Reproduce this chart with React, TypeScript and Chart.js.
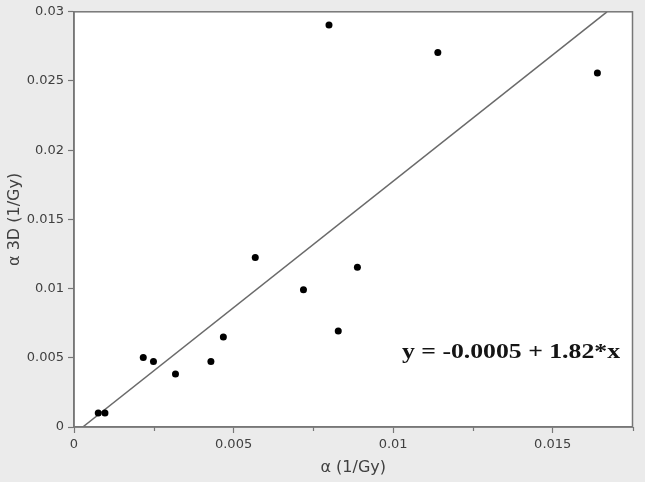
import React, { useEffect, useRef } from "react";
import { Chart, registerables } from "chart.js";

Chart.register(...registerables);

const xValues = [0.00076, 0.00097, 0.00217, 0.00249, 0.00318, 0.00429, 0.00468, 0.00568, 0.00719, 0.00799, 0.00828, 0.00888, 0.0114, 0.0164];
const yValues = [0.00102, 0.00102, 0.00502, 0.00473, 0.00383, 0.00473, 0.00651, 0.01224, 0.00991, 0.02905, 0.00694, 0.01155, 0.02706, 0.02558];
const fitX = [0.000275, 0.0167];
const fitY = [0, 0.03];
const minorXTicks = [0.0025, 0.0075, 0.0125, 0.0175];
const equationLabel = "y = -0.0005 + 1.82*x";
const xTitle = "α (1/Gy)";
const yTitle = "α 3D (1/Gy)";

const AXIS = "#777777";
const TEXT = "#404040";
const FONT = "'DejaVu Sans', sans-serif";

const framePlugin = {
  id: "frame",
  beforeDraw(chart: any) {
    const { ctx, chartArea: a, width, height } = chart;
    ctx.save();
    ctx.fillStyle = "#ebebeb";
    ctx.fillRect(0, 0, width, height);
    ctx.fillStyle = "#ffffff";
    ctx.fillRect(a.left, a.top, a.right - a.left, a.bottom - a.top);
    ctx.restore();
  },
  afterDraw(chart: any) {
    const { ctx, chartArea: a } = chart;
    const xs = chart.scales.x;
    ctx.save();
    ctx.strokeStyle = AXIS;
    ctx.lineWidth = 1.5;
    ctx.strokeRect(a.left, a.top, a.right - a.left, a.bottom - a.top);
    // minor ticks
    ctx.lineWidth = 1.2;
    ctx.beginPath();
    for (const v of minorXTicks) {
      const px = Math.round(xs.getPixelForValue(v)) + 0.5;
      ctx.moveTo(px, a.bottom);
      ctx.lineTo(px, a.bottom + 4);
    }
    ctx.stroke();
    // equation annotation
    ctx.fillStyle = "#141414";
    ctx.font = "bold 21px 'Liberation Serif', 'Times New Roman', serif";
    ctx.textBaseline = "alphabetic";
    ctx.textAlign = "left";
    const w = ctx.measureText(equationLabel).width;
    const target = 218;
    ctx.translate(402, 357.5);
    ctx.scale(target / w, 1);
    ctx.fillText(equationLabel, 0, 0);
    ctx.restore();
  },
};

export default function App() {
  const ref = useRef<HTMLCanvasElement | null>(null);
  useEffect(() => {
    if (!ref.current) return;
    const points = xValues.map((x, i) => ({ x, y: yValues[i] }));
    const fit = fitX.map((x, i) => ({ x, y: fitY[i] }));
    const isMinor = (v: number) => Math.round(v / 0.0025) % 2 !== 0;
    const chart = new Chart(ref.current, {
      type: "scatter",
      data: {
        datasets: [
          {
            type: "line",
            data: fit,
            borderColor: "#6a6a6a",
            borderWidth: 1.5,
            pointRadius: 0,
            showLine: true,
            fill: false,
            order: 2,
          } as any,
          {
            data: points,
            backgroundColor: "#000000",
            borderColor: "#000000",
            pointRadius: 3.5,
            pointBorderWidth: 0,
            order: 1,
          },
        ],
      },
      options: {
        animation: false,
        responsive: false,
        devicePixelRatio: 1,
        layout: { padding: { top: 10, right: 12.5, left: 0, bottom: 0 } },
        plugins: { legend: { display: false }, tooltip: { enabled: false } },
        scales: {
          x: {
            type: "linear",
            min: 0,
            max: 0.0175,
            afterFit(scale: any) {
              scale.height = 55;
            },
            border: { display: true, color: AXIS, width: 1.5 },
            grid: {
              drawOnChartArea: false,
              drawTicks: true,
              tickLength: 6,
              color: AXIS,
              tickWidth: 1.2,
              tickColor: (c: any) => (c.tick && isMinor(c.tick.value) ? "rgba(0,0,0,0)" : AXIS),
            },
            ticks: {
              stepSize: 0.0025,
              padding: 4,
              color: TEXT,
              font: { family: FONT, size: 13 },
              maxRotation: 0,
              autoSkip: false,
              callback(v: any) {
                const k = Math.round(Number(v) / 0.0025);
                if (k % 2 !== 0) return "";
                return String(Number((k * 0.0025).toFixed(4)));
              },
            },
            title: {
              display: true,
              text: xTitle,
              color: TEXT,
              font: { family: FONT, size: 16 },
              padding: { top: 0, bottom: 4.5 },
            },
          },
          y: {
            type: "linear",
            min: 0,
            max: 0.03,
            afterFit(scale: any) {
              scale.width = 74;
            },
            border: { display: true, color: AXIS, width: 1.5 },
            grid: { drawOnChartArea: false, drawTicks: true, tickLength: 6, color: AXIS, tickColor: AXIS, tickWidth: 1.2 },
            ticks: {
              stepSize: 0.005,
              padding: 4,
              color: TEXT,
              font: { family: FONT, size: 13 },
              callback(v: any) {
                return String(Number(Number(v).toFixed(4)));
              },
            },
            title: {
              display: true,
              text: yTitle,
              color: TEXT,
              font: { family: FONT, size: 16 },
              padding: { top: 5.5, bottom: 0 },
            },
          },
        },
      },
      plugins: [framePlugin],
    });
    return () => chart.destroy();
  }, []);
  return (
    <div style={{ position: "absolute", left: 0, top: 0, width: 645, height: 482 }}>
      <canvas ref={ref} width={645} height={482} style={{ display: "block", width: 645, height: 482 }} />
    </div>
  );
}
